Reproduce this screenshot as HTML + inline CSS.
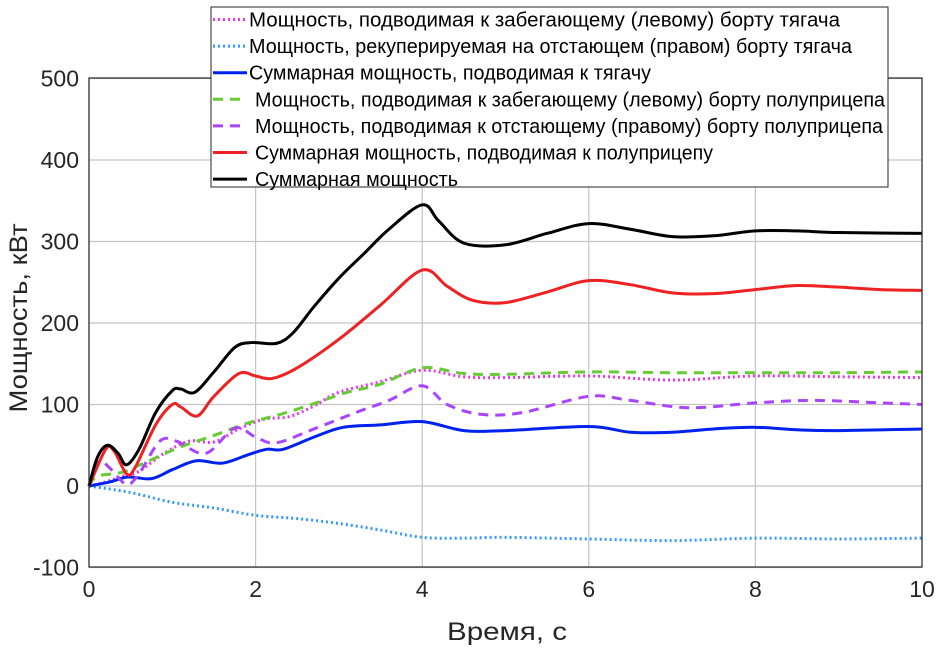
<!DOCTYPE html>
<html><head><meta charset="utf-8"><style>
body{margin:0;background:#fff}
svg text{font-family:"Liberation Sans","DejaVu Sans",sans-serif}
</style></head><body>
<svg id="chart" width="939" height="650" xmlns="http://www.w3.org/2000/svg">
<g id="grid"></g>
<g id="series"></g>
<rect x="89" y="78" width="833" height="489" fill="none" stroke="#262626" stroke-width="1.2"/>
<g id="ticks"></g>
<text x="507" y="640" font-size="25" text-anchor="middle" textLength="120" lengthAdjust="spacingAndGlyphs" fill="#262626">Время, с</text>
<text transform="translate(27,318) rotate(-90)" font-size="25" text-anchor="middle" textLength="189" lengthAdjust="spacingAndGlyphs" fill="#262626">Мощность, кВт</text>
<g id="legend"></g>
</svg>
<script>
const xTicks=[0,2,4,6,8,10];
const yTicks=[-100,0,100,200,300,400,500];
const magenta=[[0,0],[0.2,5],[0.4,12],[0.6,18],[0.9,40],[1.2,55],[1.5,54],[1.8,70],[2.1,82],[2.4,85],[2.7,98],[3.0,115],[3.5,128],[4,142],[4.5,134],[5,133],[6,135],[7,130],[8,135],[9,134],[10,133]];
const lightBlue=[[0,0],[0.5,-8],[1,-20],[1.5,-27],[2,-36],[2.5,-40],[3,-46],[3.5,-54],[4,-63],[4.5,-64],[5,-63],[6,-65],[7,-67],[8,-64],[9,-65],[10,-64]];
const blue=[[0,0],[0.25,5],[0.47,11],[0.75,9],[1.0,20],[1.29,31],[1.6,28],[1.9,38],[2.13,45],[2.33,45],[2.7,60],[3.05,72],[3.5,75],[4,79],[4.5,68],[5,68],[6,73],[6.5,66],[7,66],[7.5,70],[8,72],[8.5,69],[9,68],[10,70]];
const green=[[0,0],[0.1,12],[0.4,17],[0.7,30],[1.1,48],[1.5,62],[1.9,77],[2.3,88],[2.7,101],[3.1,115],[3.5,125],[4,145],[4.5,138],[5,137],[6,140],[7,139],[8,139],[9,139],[10,140]];
const purple=[[0,0],[0.12,30],[0.25,22],[0.45,2],[0.6,15],[0.85,55],[1.05,55],[1.4,40],[1.75,71],[2.0,60],[2.25,53],[2.7,70],[3.2,90],[3.6,105],[4,123],[4.3,100],[4.7,88],[5.2,90],[6,110],[6.5,105],[7.2,96],[8,102],[8.7,105],[9.5,102],[10,100]];
const red=[[0,0],[0.2,45],[0.3,43],[0.45,15],[0.55,22],[0.8,75],[1.0,100],[1.1,97],[1.3,86],[1.5,110],[1.8,138],[2.0,135],[2.2,132],[2.5,145],[3.0,180],[3.5,222],[4.0,265],[4.3,245],[4.6,228],[5.0,225],[5.5,238],[6.0,252],[6.5,247],[7.0,237],[7.5,236],[8.0,241],[8.5,246],[9,244],[9.5,241],[10,240]];
const black=[[0,0],[0.1,35],[0.22,50],[0.35,40],[0.45,26],[0.6,45],[0.8,90],[1.0,117],[1.1,119],[1.27,115],[1.5,140],[1.75,170],[1.95,176],[2.25,175],[2.45,188],[2.7,220],[3.0,255],[3.3,285],[3.6,315],[4.0,345],[4.2,325],[4.5,298],[5.0,296],[5.5,310],[6.0,322],[6.5,315],[7.0,306],[7.5,307],[8.0,313],[8.5,313],[9,311],[10,310]];
const labels=["Мощность, подводимая к забегающему (левому) борту тягача","Мощность, рекуперируемая на отстающем (правом) борту тягача","Суммарная мощность, подводимая к тягачу","Мощность, подводимая к забегающему (левому) борту полуприцепа","Мощность, подводимая к отстающему (правому) борту полуприцепа","Суммарная мощность, подводимая к полуприцепу","Суммарная мощность"];
const labelWidths=[591,603,402,630,628,458,203];
const NS="http://www.w3.org/2000/svg";
const X=t=>89+t*83.3, Y=v=>486-v*0.815;
function mk(tag,at,parent){const e=document.createElementNS(NS,tag);for(const k in at)e.setAttribute(k,at[k]);parent.appendChild(e);return e;}
const grid=document.getElementById('grid'),ticks=document.getElementById('ticks');
xTicks.forEach(t=>{
  const l=mk('line',{x1:X(t),x2:X(t),y1:78,y2:567,stroke:'#c4c4c4','stroke-width':1.2},grid);
  
  
  const tx=mk('text',{x:X(t),y:597,'font-size':23,'text-anchor':'middle',fill:'#262626'},ticks);tx.textContent=t;
  
  
});
yTicks.forEach(v=>{
  const l=mk('line',{x1:89,x2:922,y1:Y(v),y2:Y(v),stroke:'#c4c4c4','stroke-width':1.2},grid);
  
  
  const tx=mk('text',{x:79,y:Y(v)+8,'font-size':23,'text-anchor':'end',fill:'#262626'},ticks);tx.textContent=v;
  
  
});
function pathD(p){
  const P=p.map(a=>[X(a[0]),Y(a[1])]);let d='M'+P[0][0]+','+P[0][1];
  for(let i=0;i<P.length-1;i++){const p0=P[i-1]||P[i],p1=P[i],p2=P[i+1],p3=P[i+2]||p2;
    d+=' C'+(p1[0]+(p2[0]-p0[0])/6)+','+(p1[1]+(p2[1]-p0[1])/6)+' '+(p2[0]-(p3[0]-p1[0])/6)+','+(p2[1]-(p3[1]-p1[1])/6)+' '+p2[0]+','+p2[1];}
  return d;}
const styles=[
 {d:magenta,c:'#ee33ee',w:3,da:'2,3',n:'magenta-tractor-left-line'},
 {d:lightBlue,c:'#3399ff',w:3,da:'2,3',n:'lightblue-tractor-right-line'},
 {d:blue,c:'#0022ee',w:3,da:'',n:'blue-tractor-total-line'},
 {d:green,c:'#66cc33',w:3,da:'10,7',n:'green-trailer-left-line'},
 {d:purple,c:'#aa44ff',w:3,da:'10,7',n:'purple-trailer-right-line'},
 {d:red,c:'#ee2222',w:3,da:'',n:'red-trailer-total-line'},
 {d:black,c:'#000000',w:3,da:'',n:'black-total-line'}];
const sg=document.getElementById('series');
styles.forEach(s=>{const p=mk('path',{d:pathD(s.d),fill:'none',stroke:s.c,'stroke-width':s.w,'stroke-dasharray':s.da},sg);
  
  });
const lg=document.getElementById('legend');
const box=mk('rect',{x:211,y:7,width:677,height:180,fill:'#fff',stroke:'#262626','stroke-width':1},lg);


styles.forEach((s,i)=>{const y=19.5+i*26.6;
  const l=mk('line',{x1:213,x2:247,y1:y,y2:y,stroke:s.c,'stroke-width':3,'stroke-dasharray':s.da},lg);
  
  
  const t=mk('text',{x:i<3?249:255,y:y+7,'font-size':20,fill:'#000',textLength:labelWidths[i],lengthAdjust:'spacingAndGlyphs'},lg);t.textContent=labels[i];
  
  });
</script>
</body></html>
